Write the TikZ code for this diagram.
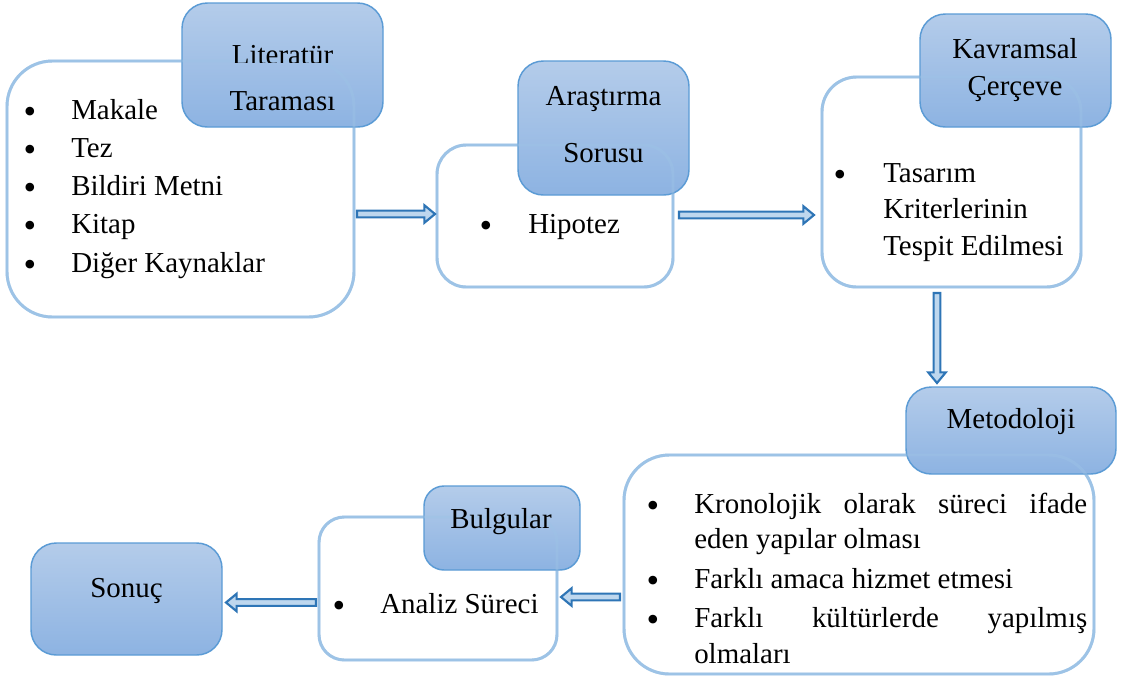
\documentclass[tikz,border=0pt]{standalone}
\usepackage{fontspec}
\setmainfont{Liberation Serif}
\usetikzlibrary{calc,fit}
\definecolor{wline}{RGB}{157,195,230}
\definecolor{hdtop}{RGB}{180,204,234}
\definecolor{hdbot}{RGB}{141,179,226}
\definecolor{hdline}{RGB}{91,155,213}
\definecolor{arrline}{RGB}{46,117,182}
\definecolor{arrfill}{RGB}{190,215,238}
\newcommand\bodyfont{\fontsize{21.7}{26}\selectfont}
\newcommand\bulfont{\fontsize{27}{30}\selectfont}
\newcommand\blockarrow[2]{%
  \path let \p1=(#1), \p2=(#2) in \pgfextra{%
    \pgfmathsetmacro\baLenL{veclen(\x2-\x1,\y2-\y1)}%
    \pgfmathsetmacro\baAngL{atan2(\y2-\y1,\x2-\x1)}%
    \xdef\baLen{\baLenL}\xdef\baAng{\baAngL}};
  \draw[blockarr, shift={(#1)}, rotate=\baAng]
    (0pt,2.5pt) -- (\baLen pt-8pt,2.5pt) -- (\baLen pt-8pt,6.6pt) -- (\baLen pt,0pt)
    -- (\baLen pt-8pt,-6.6pt) -- (\baLen pt-8pt,-2.5pt) -- (0pt,-2.5pt) -- cycle;
}
\tikzset{
  wbox/.style={draw=wline, line width=2.2pt, fill=white, inner sep=0pt, outer sep=0pt},
  wover/.style={draw=wline, line width=2.2pt, draw opacity=0.45},
  hbox/.style={draw=hdline, line width=1.1pt, top color=hdtop, bottom color=hdbot,
               inner sep=0pt, outer sep=0pt, rounded corners=19pt},
  txt/.style={anchor=base west, inner sep=0pt, font=\bodyfont},
  ctxt/.style={anchor=base, inner sep=0pt, font=\bodyfont},
  bul/.style={anchor=base, inner sep=0pt, font=\bulfont, yshift=-3pt},
  blockarr/.style={draw=arrline, line width=1.6pt, fill=arrfill, line join=miter},
}
\begin{document}
\begin{tikzpicture}[x=0.75pt, y=-0.75pt]
\useasboundingbox (0,0) rectangle (1132,676);

% ---------- group 1: Literatur ----------
\node[wbox, rounded corners=34pt, fit={(7,61) (354,317)}] (box1) {};
\node[hbox, fit={(182,3) (383,127)}] (head1) {};
\draw[wover, rounded corners=34pt] (box1.north west) rectangle (box1.south east);
\begin{scope}
  \clip (183,0) rectangle (383,62);
  \node[ctxt] (h1a) at (282.5,64) {Literatür};
\end{scope}
\node[ctxt] (h1b) at (282.5,110) {Taraması};
\foreach \yy/\tt/\nm in {119/Makale/a, 157/Tez/b, 195/Bildiri Metni/c, 233/Kitap/d, 272/Diğer Kaynaklar/e}{
  \node[bul] (b1\nm) at (30,\yy) {•};
  \node[txt] (t1\nm) at (71,\yy) {\tt};
}

% ---------- group 2: Arastirma ----------
\node[wbox, rounded corners=22pt, fit={(437,145) (673,287)}] (box2) {};
\node[hbox, fit={(518,61) (689,195)}] (head2) {};
\draw[wover, rounded corners=22pt] (box2.north west) rectangle (box2.south east);
\node[ctxt] (h2a) at (603.5,105) {Araştırma};
\node[ctxt] (h2b) at (603.5,162) {Sorusu};
\node[bul] (b2) at (486,233) {•};
\node[txt] (t2) at (528,233) {Hipotez};

% ---------- group 3: Kavramsal ----------
\node[wbox, rounded corners=26pt, fit={(822,77) (1081,287)}] (box3) {};
\node[hbox, fit={(920,14) (1111,127)}] (head3) {};
\draw[wover, rounded corners=26pt] (box3.north west) rectangle (box3.south east);
\node[ctxt] (h3a) at (1015,58) {Kavramsal};
\node[ctxt] (h3b) at (1015,95) {Çerçeve};
\node[bul] (b3) at (840,182) {•};
\node[txt] (t3a) at (883,182) {Tasarım};
\node[txt] (t3b) at (883,218) {Kriterlerinin};
\node[txt] (t3c) at (883,255) {Tespit Edilmesi};

% ---------- group 4: Metodoloji ----------
\node[wbox, rounded corners=34pt, fit={(624,455) (1094,674)}] (box4) {};
\node[hbox, fit={(906,387) (1116,474)}] (head4) {};
\draw[wover, rounded corners=34pt] (box4.north west) rectangle (box4.south east);
\node[ctxt] (h4) at (1011,428) {Metodoloji};
\node[bul] (b4a) at (653,513) {•};
\node[txt] (t4a) at (694,513) {\makebox[294.75pt][s]{Kronolojik olarak süreci ifade}};
\node[txt] (t4b) at (694,548) {eden yapılar olması};
\node[bul] (b4b) at (653,588) {•};
\node[txt] (t4c) at (694,588) {Farklı amaca hizmet etmesi};
\node[bul] (b4c) at (653,627) {•};
\node[txt] (t4d) at (694,627) {\makebox[294.75pt][s]{Farklı kültürlerde yapılmış}};
\node[txt] (t4e) at (694,663) {olmaları};

% ---------- group 5: Bulgular ----------
\node[wbox, rounded corners=19pt, fit={(319,517) (557,660)}] (box5) {};
\node[hbox, rounded corners=15pt, fit={(424,486) (580,570)}] (head5) {};
\draw[wover, rounded corners=19pt] (box5.north west) rectangle (box5.south east);
\node[ctxt] (h5) at (501,528) {Bulgular};
\node[bul] (b5) at (339,613) {•};
\node[txt] (t5) at (380,613) {Analiz Süreci};

% ---------- Sonuc ----------
\node[hbox, fit={(31,543) (222,655)}] (sonuc) {};
\node[ctxt] (h6) at (126.5,597) {Sonuç};

% ---------- arrows ----------
\coordinate (a1s) at ($(box1.east |- box2.west)+(3,-2)$);
\coordinate (a1e) at ($(box2.west)+(-2,-2)$);
\coordinate (a2s) at ($(box2.east)+(6,-1)$);
\coordinate (a2e) at ($(box3.west |- a2s)+(-8,0)$);
\coordinate (a3s) at ($(box3.south)+(-14.5,6)$);
\coordinate (a3e) at ($(a3s |- head4.north)+(0,-4)$);
\coordinate (a4s) at ($(box4.west)+(-4,32.5)$);
\coordinate (a4e) at ($(box5.east |- a4s)+(4,0)$);
\coordinate (a5s) at ($(box5.west)+(-3,14)$);
\coordinate (a5e) at ($(sonuc.east |- a5s)+(4,0)$);
\blockarrow{a1s}{a1e}
\blockarrow{a2s}{a2e}
\blockarrow{a3s}{a3e}
\blockarrow{a4s}{a4e}
\blockarrow{a5s}{a5e}
\end{tikzpicture}
\end{document}
